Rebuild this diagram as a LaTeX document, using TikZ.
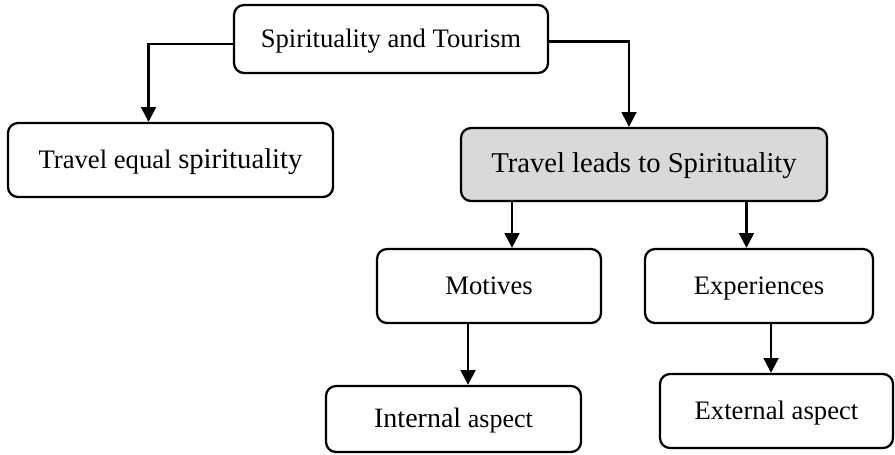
\documentclass[tikz,border=0pt]{standalone}
\usepackage{fontspec}
\setmainfont{Liberation Serif}
\usetikzlibrary{arrows.meta}
\definecolor{leadgray}{RGB}{217,217,217}
\newcommand{\basesize}{\fontsize{20}{24}\selectfont}
\newcommand{\bigsize}{\fontsize{21.5}{26}\selectfont}

\begin{document}
\begin{tikzpicture}[x=0.75pt,y=-0.75pt,
  box/.style={draw,line width=1.7pt,rounded corners=7.5pt,fill=white,
    font=\basesize,inner sep=0pt,text height=15pt,text depth=3pt},
  link/.style={line width=1.8pt,-{Triangle[width=11pt,length=11pt]}}]
\useasboundingbox (0,0) rectangle (895,454);
%
\node[box,minimum width=235.5pt,minimum height=51pt] (tourism) at (391,39)
    {Spirituality and Tourism};
\node[box,minimum width=243.75pt,minimum height=55.5pt] (equal) at (170.5,160)
    {Travel equal {\bigsize spirituality}};
\node[box,fill=leadgray,font=\bigsize,minimum width=274.5pt,minimum height=54.75pt]
    (leads) at (644,164.5) {Travel leads to Spirituality};
%%%%%%%%%%%%%%%%%%%%%%%%%%%%%%%%%%%%%
\node[box,minimum width=168pt,minimum height=55.5pt] (motives) at (489,286) {Motives};
\node[box,minimum width=171pt,minimum height=55.5pt] (experiences) at (759,286) {Experiences};
\node[box,minimum width=191.25pt,minimum height=49.5pt] (internal) at (453.5,419)
    {{\fontsize{21}{25}\selectfont Internal} {\fontsize{19.5}{24}\selectfont aspect}};
\node[box,minimum width=174.75pt,minimum height=55.5pt] (external) at (776.5,411)
    {External aspect};
%%%%%%%%%%%%%%%%%%%%%%%%%%%%%%%%%%%%%
\draw[link] ([yshift=-3.75pt]tourism.west) -| ([xshift=-16.5pt]equal.north);
\draw[link] ([yshift=-2pt]tourism.east) -| ([xshift=-11.25pt]leads.north);
\draw[link] ([xshift=17.25pt]motives.north |- leads.south) -- ([xshift=17.25pt]motives.north);
\draw[link] ([xshift=-9.4pt]experiences.north |- leads.south) -- ([xshift=-9.4pt]experiences.north);
\draw[link] ([xshift=10.9pt]internal.north |- motives.south) -- ([xshift=10.9pt]internal.north);
\draw[link] ([xshift=-4.1pt]external.north |- experiences.south) -- ([xshift=-4.1pt]external.north);
\end{tikzpicture}
\end{document}
